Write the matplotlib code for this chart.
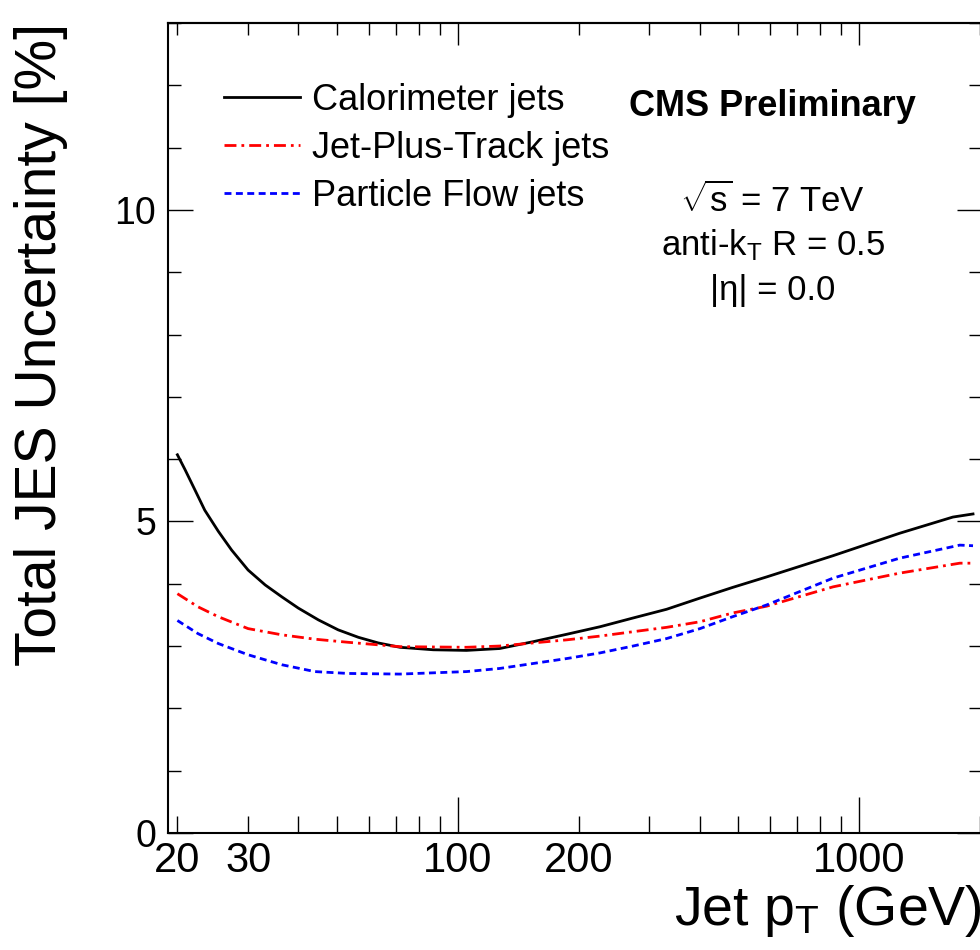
import matplotlib
matplotlib.use("Agg")
import matplotlib.pyplot as plt
from matplotlib.ticker import FixedLocator, FuncFormatter, MultipleLocator, NullFormatter

# -----------------------------
# Data
# -----------------------------
calo_pt = [20, 20.9, 22.1, 23.4, 25.3, 27.3, 30, 33.1, 36.4, 40, 44.9, 50.3, 56.5, 63.3,
           71.7, 86.8, 105, 127, 154, 187, 226, 273, 331, 401, 483, 588, 860, 1260, 1710, 1920]
calo_unc = [6.07, 5.83, 5.51, 5.18, 4.84, 4.54, 4.22, 3.98, 3.79, 3.61, 3.42, 3.26, 3.14, 3.05,
            2.98, 2.94, 2.93, 2.96, 3.07, 3.19, 3.31, 3.45, 3.59, 3.77, 3.94, 4.11, 4.45, 4.81,
            5.07, 5.12]

jpt_pt = [20, 22.5, 25.3, 30, 36.4, 44, 53.3, 71.7, 105, 127, 154, 187, 226, 273, 331, 401,
          483, 588, 860, 1260, 1780, 1920]
jpt_unc = [3.84, 3.63, 3.47, 3.28, 3.18, 3.11, 3.06, 2.99, 2.98, 3.0, 3.05, 3.10, 3.16, 3.23,
           3.30, 3.39, 3.53, 3.64, 3.95, 4.17, 4.33, 4.33]

pf_pt = [20, 22.5, 25.3, 30, 36.4, 44, 53.3, 71.7, 105, 127, 154, 187, 226, 273, 331, 401,
         483, 588, 860, 1260, 1780, 1920]
pf_unc = [3.41, 3.20, 3.04, 2.86, 2.70, 2.59, 2.56, 2.55, 2.59, 2.64, 2.72, 2.80, 2.89, 3.0,
          3.12, 3.28, 3.47, 3.66, 4.09, 4.41, 4.62, 4.61]

labels = ["Calorimeter jets", "Jet-Plus-Track jets", "Particle Flow jets"]
x_labelled = [20, 30, 100, 200, 1000]
x_minor = [20, 30, 40, 50, 60, 70, 80, 90, 200, 300, 400, 500, 600, 700, 800, 900, 2000]

# -----------------------------
# Style
# -----------------------------
plt.rcParams["font.family"] = ["Liberation Sans", "DejaVu Sans"]
plt.rcParams["mathtext.fontset"] = "custom"
plt.rcParams["mathtext.rm"] = "Liberation Sans"
plt.rcParams["mathtext.it"] = "Liberation Sans:italic"
plt.rcParams["mathtext.bf"] = "Liberation Sans:bold"

fig = plt.figure(figsize=(9.8, 9.5), dpi=100)
ax = fig.add_axes([0.1719, 0.1232, 0.830, 0.8526])

ax.plot(calo_pt, calo_unc, color="black", lw=2.0, label=labels[0])
ax.plot(jpt_pt, jpt_unc, color="red", lw=2.0, linestyle=(0, (4.3, 1.8, 1.0, 1.8)),
        label=labels[1])
ax.plot(pf_pt, pf_unc, color="blue", lw=2.0, linestyle=(0, (2.5, 1.6)), label=labels[2])

ax.set_xscale("log")
ax.set_xlim(19, 2020)
ax.set_ylim(0, 13)

# -----------------------------
# Ticks
# -----------------------------
ax.xaxis.set_major_locator(FixedLocator([100, 1000]))
ax.xaxis.set_minor_locator(FixedLocator(x_minor))
lab = lambda v, p: "%d" % v if int(round(v)) in x_labelled else ""
ax.xaxis.set_major_formatter(FuncFormatter(lab))
ax.xaxis.set_minor_formatter(FuncFormatter(lab))
ax.yaxis.set_major_locator(MultipleLocator(5))
ax.yaxis.set_minor_locator(MultipleLocator(1))

ax.tick_params(axis="x", which="major", direction="in", length=26, width=1.0, pad=6,
               top=False, bottom=True, labelsize=30)
ax.tick_params(axis="x", which="minor", direction="in", length=12, width=1.0, pad=6,
               top=False, bottom=True, labelsize=30)
ax.tick_params(axis="y", which="major", direction="in", length=18, width=1.0, pad=9,
               left=True, right=True, labelsize=27)
ax.tick_params(axis="y", which="minor", direction="in", length=9.5, width=1.0,
               left=True, right=True)

top = ax.secondary_xaxis("top")
top.xaxis.set_major_locator(FixedLocator([100, 1000]))
top.xaxis.set_minor_locator(FixedLocator(x_minor))
top.xaxis.set_major_formatter(NullFormatter())
top.xaxis.set_minor_formatter(NullFormatter())
top.tick_params(which="major", direction="in", length=16, width=1.0)
top.tick_params(which="minor", direction="in", length=8.5, width=1.0)
top.spines["top"].set_linewidth(1.5)

for s in ax.spines.values():
    s.set_linewidth(1.5)

# -----------------------------
# Labels and text
# -----------------------------
ax.set_ylabel("Total JES Uncertainty [%]", fontsize=41, loc="top")
ax.yaxis.set_label_coords(-0.124, 1.0)
ax.set_xlabel(r"Jet p$_{\mathrm{T}}$ (GeV)", fontsize=40, loc="right")
ax.xaxis.set_label_coords(1.0, -0.062)

ax.legend(loc="upper left", bbox_to_anchor=(0.068, 0.926), frameon=False, fontsize=26,
          handlelength=2.1, handletextpad=0.35, labelspacing=0.36,
          borderpad=0, borderaxespad=0)

ax.text(0.743, 0.897, "CMS Preliminary", transform=ax.transAxes, fontsize=26,
        fontweight="bold", ha="center", va="center")
ax.text(0.743, 0.781, r"$\sqrt{\mathrm{s}}$ = 7 TeV", transform=ax.transAxes, fontsize=25,
        ha="center", va="center")
ax.text(0.743, 0.726, r"anti-k$_{\mathrm{T}}$ R = 0.5", transform=ax.transAxes, fontsize=25,
        ha="center", va="center")
ax.text(0.743, 0.670, "|η| = 0.0", transform=ax.transAxes, fontsize=25,
        ha="center", va="center")

fig.savefig("out.png", dpi=100)
